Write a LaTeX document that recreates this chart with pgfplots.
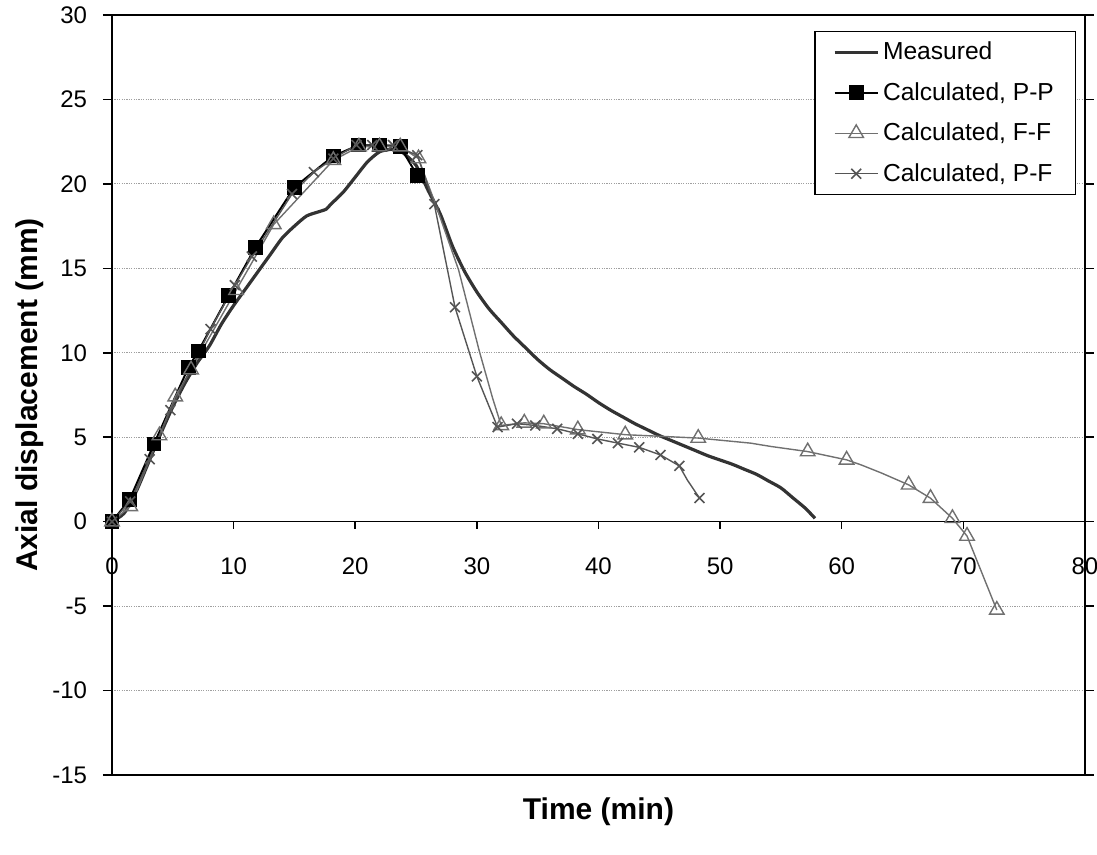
\documentclass[border=0pt]{standalone}
\usepackage{fontspec}
\setmainfont{Liberation Sans}
\usepackage{pgfplots}
\pgfplotsset{compat=1.18}

\definecolor{measured}{HTML}{333333}
\definecolor{ffgray}{HTML}{707070}
\definecolor{pfgray}{HTML}{555555}

\begin{document}
\begin{tikzpicture}
\useasboundingbox (-56bp,-40bp) rectangle (492.5bp,387.5bp);
\begin{axis}[
  at={(0,0)}, anchor=south west,
  scale only axis,
  width=486.5bp, height=380bp,
  xmin=0, xmax=80, ymin=-15, ymax=30,
  xtick={0,10,...,80},
  ytick={-15,-10,...,30},
  clip=false,
  axis line style={black, line width=0.75bp},
  tick align=outside,
  major tick length=4.5bp,
  major x tick style={draw=none},
  ytick style={black, line width=0.75bp},
  tick label style={font=\fontsize{12bp}{14.4bp}\selectfont},
  /pgf/number format/assume math mode=true,
  xticklabel style={yshift=116.4bp},
  yticklabel style={xshift=-4.5bp},
  ymajorgrids,
  major grid style={gray!75, line width=0.6bp, dash pattern=on 0.6bp off 0.6bp},
  xlabel={Time (min)},
  ylabel={Axial displacement (mm)},
  every axis x label/.style={at={(axis description cs:0.5,0)}, yshift=-18.5bp, anchor=center,
    font=\fontsize{15bp}{18bp}\selectfont\bfseries},
  every axis y label/.style={at={(axis description cs:0,0.5)}, xshift=-41bp, rotate=90, anchor=center,
    font=\fontsize{15bp}{18bp}\selectfont\bfseries},
  legend cell align=left,
  legend style={at={(axis description cs:0.9908,0.979)}, anchor=north east,
    draw=black, line width=0.6bp, fill=white,
    font=\fontsize{12.3bp}{14.8bp}\selectfont,
    nodes={inner sep=1.75bp},
    inner xsep=9bp, inner ysep=3.5bp, row sep=6.3bp},
  legend image code/.code={%
    \draw[mark repeat=2,mark phase=2] plot coordinates {(0bp,0bp) (10.85bp,0bp) (21.7bp,0bp)};},
]

% x axis drawn through y = 0, ticks pointing down
\draw[black, line width=0.75bp] (axis cs:0,0) -- (axis cs:80,0);
\pgfplotsinvokeforeach{0,10,...,80}{%
  \draw[black, line width=0.75bp] (axis cs:#1,0) -- ++(0bp,-3.5bp);}

% Measured
\addplot[measured, line width=1.6bp, smooth, tension=0.4, no marks, forget plot] coordinates {
(0,0) (1,0.5) (2,1.8) (3,3.5) (4,5.2) (5,6.8) (6,8.2) (7,9.4) (8,10.4)
(9,11.7) (10,12.8) (11,13.8) (12,14.8) (13,15.8) (14,16.8) (15,17.5)
(16,18.1) (17,18.35) (17.6,18.5) (18,18.8) (19,19.5) (20,20.4) (21,21.3)
(22,21.9) (23,22.05) (23.6,22.0) (24,21.8) (25,21.1) (26,19.6) (27,18.2)
(28,16.3) (29,14.8) (30,13.6) (31,12.6) (32,11.8) (33,11.0) (34,10.3)
(35,9.6) (36,9.0) (37,8.5) (38,8.0) (39,7.55) (40,7.05) (41,6.6) (42,6.2)
(43,5.8) (44,5.45) (45,5.1) (46,4.8) (47,4.5) (48,4.2) (49,3.9) (50,3.65)
(51,3.4) (52,3.1) (53,2.8) (54,2.4) (55,2.0) (56,1.4) (57,0.8) (57.8,0.2)
};

% Calculated, P-P
\addplot[black, line width=1bp, mark=square*, mark size=3.2bp,
  mark options={solid, fill=black}, forget plot] coordinates {
(0,0) (1.45,1.3) (3.45,4.6) (6.3,9.15) (7.1,10.1) (9.6,13.4) (11.8,16.25)
(15.0,19.8) (18.2,21.65) (20.3,22.3) (22.0,22.3) (23.7,22.2) (25.1,20.5)
};

% Calculated, F-F (markers only at the computed steps)
\addplot[ffgray, line width=0.7bp, mark=triangle, mark size=4.2bp,
  mark options={solid, fill=white, line width=0.7bp}, forget plot,
  mark indices={1,2,3,4,5,6,7,8,9,10,11,12,17,18,19,20,21,22,25,26,29,30,31,32,33}] coordinates {
(0,0) (1.5,0.9) (3.9,5.1) (5.2,7.4) (6.5,9.0) (10.2,13.7) (13.3,17.6)
(18.2,21.4) (20.3,22.2) (22.0,22.2) (23.7,22.2) (25.2,21.5)
(26.6,18.8) (28.5,14.9) (30.2,10.1) (31.3,7.3)
(32.0,5.7) (33.9,5.85) (35.5,5.8) (38.3,5.45) (42.2,5.15) (48.2,4.95)
(52.5,4.65) (54.2,4.45)
(57.2,4.15) (60.4,3.66)
(61.6,3.36) (63.3,2.87)
(65.5,2.18) (67.3,1.39) (69.1,0.2) (70.3,-0.85) (72.75,-5.23)
};

% Calculated, P-F
\addplot[pfgray, line width=0.7bp, mark=x, mark size=3.5bp,
  mark options={solid, line width=0.8bp}, forget plot,
  mark indices={1,2,3,4,5,6,7,8,9,10,11,12,13,14,15,16,17,18,19,20,21,22,23,24,25,26,27,29}] coordinates {
(0,0) (1.5,1.2) (3.1,3.7) (4.8,6.6) (8.1,11.4) (10.1,14.0) (11.5,15.7)
(14.8,19.4) (16.6,20.7) (18.2,21.5) (20.1,22.3) (21.4,22.3) (23.1,22.3)
(25.1,21.7) (26.5,18.8) (28.2,12.7) (30.0,8.6) (31.7,5.6) (33.3,5.8)
(34.8,5.7) (36.6,5.5) (38.3,5.2) (39.9,4.9) (41.6,4.65) (43.35,4.4)
(45.1,3.95) (46.65,3.3) (47.3,2.47) (48.3,1.4)
};

% legend entries
\addlegendimage{measured, line width=1.6bp}
\addlegendentry{Measured}
\addlegendimage{black, line width=1bp, mark=square*, mark size=3.2bp, mark options={solid, fill=black}}
\addlegendentry{Calculated, P-P}
\addlegendimage{ffgray, line width=0.7bp, mark=triangle, mark size=4.2bp, mark options={solid, fill=white, line width=0.7bp}}
\addlegendentry{Calculated, F-F}
\addlegendimage{pfgray, line width=0.7bp, mark=x, mark size=3.5bp, mark options={solid, line width=0.8bp}}
\addlegendentry{Calculated, P-F}

\end{axis}
\end{tikzpicture}
\end{document}
